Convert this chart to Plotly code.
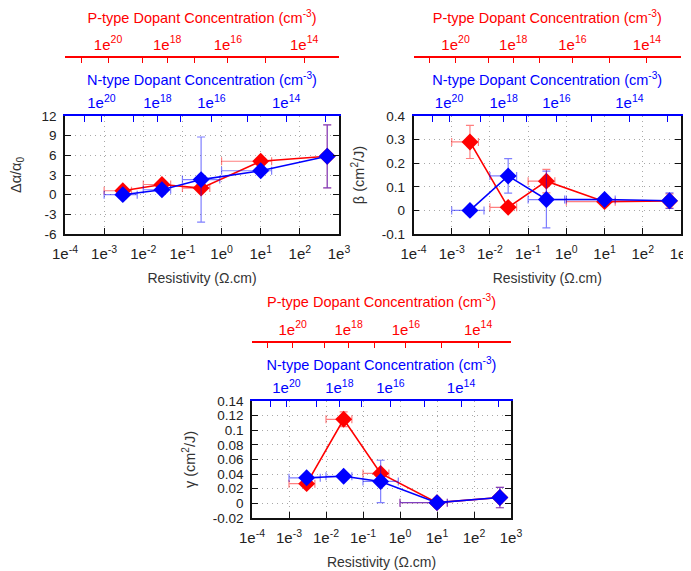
import plotly.graph_objects as go

W, H = 691, 571
OFF = 8            # the page body margin: the figure starts 8 px in from the window corner
FW, FH = W - OFF, H - OFF

# ---------------- data ----------------
resistivity = [3e-3, 3e-2, 3e-1, 1e1, 5e2]

# horizontal (resistivity) ranges
p_rho_lo = [1e-3, 1e-2, 1e-1, 1.0, 5e2]
p_rho_hi = [5e-3, 5e-2, 5e-1, 19.0, 5e2]
n_rho_lo = [1e-3, 1e-2, 1e-1, 1.0, 5e2]
n_rho_hi = [7e-3, 5e-2, 9e-1, 19.0, 5e2]

# panel 1 : delta alpha / alpha0
p_alpha = [0.6, 1.55, 1.0, 5.1, 5.85]
p_alpha_err = [0.3, 0.3, 0.3, 0.3, 4.8]
n_alpha = [0.0, 0.75, 2.3, 3.65, 5.85]
n_alpha_err = [0.3, 0.3, 6.5, 0.3, 4.8]

# panel 2 : beta (cm2/J)
p_beta = [0.29, 0.013, 0.124, 0.037, 0.04]
p_beta_err = [0.07, 0.005, 0.05, 0.005, 0.03]
n_beta = [0.0, 0.146, 0.046, 0.046, 0.041]
n_beta_err = [0.0, 0.073, 0.12, 0.005, 0.033]

# panel 3 : gamma (cm2/J)
p_gamma = [0.027, 0.115, 0.041, 0.001, 0.008]
p_gamma_err = [0.002, 0.01, 0.004, 0.0, 0.014]
n_gamma = [0.035, 0.037, 0.030, 0.001, 0.008]
n_gamma_err = [0.002, 0.002, 0.029, 0.0, 0.014]

# bottom axis ticks
rho_ticks = [1e-4, 1e-3, 1e-2, 1e-1, 1e0, 1e1, 1e2, 1e3]
rho_labels = ["1e<sup>-4</sup>", "1e<sup>-3</sup>", "1e<sup>-2</sup>", "1e<sup>-1</sup>",
              "1e<sup>0</sup>", "1e<sup>1</sup>", "1e<sup>2</sup>", "1e<sup>3</sup>"]

# dopant-concentration axes: resistivity at each concentration decade
n_dopant_rho = [10**-3.50, 10**-3.07, 10**-2.25, 10**-1.64, 10**-1.05, 10**-0.26, 10**0.66, 10**1.65, 10**2.65]
n_dopant_labels = ["", "1e<sup>20</sup>", "", "1e<sup>18</sup>", "", "1e<sup>16</sup>", "", "1e<sup>14</sup>", ""]
p_dopant_rho = [10**-3.59, 10**-2.90, 10**-2.03, 10**-1.39, 10**-0.70, 10**0.16, 10**1.13, 10**2.11]
p_dopant_labels = ["", "1e<sup>20</sup>", "", "1e<sup>18</sup>", "", "1e<sup>16</sup>", "", "1e<sup>14</sup>"]

# y ticks
alpha_ticks = [-6, -3, 0, 3, 6, 9, 12]
alpha_labels = ["-6", "-3", "0", "3", "6", "9", "12"]
beta_ticks = [-0.1, 0.0, 0.1, 0.2, 0.3, 0.4]
beta_labels = ["-0.1", "0", "0.1", "0.2", "0.3", "0.4"]
gamma_ticks = [-0.02, 0.0, 0.02, 0.04, 0.06, 0.08, 0.1, 0.12, 0.14]
gamma_labels = ["-0.02", "0", "0.02", "0.04", "0.06", "0.08", "0.1", "0.12", "0.14"]

RED = "#ff0000"
BLUE = "#0000ff"
RED_ERR = "rgba(255,0,0,0.5)"
BLUE_ERR = "rgba(0,0,255,0.5)"
FONT = "Liberation Sans, Arial, sans-serif"
GRID = "#a8a8a8"
GDASH = "1px,4px"


def px(x):
    return (x - OFF) / FW


def py(y):
    return 1 - (y - OFF) / FH


panels = [
    dict(x0=65, x1=339, top=116, bot=234, y=(p_alpha, p_alpha_err, n_alpha, n_alpha_err),
         yr=[-6, 12], yt=alpha_ticks, yl=alpha_labels, ytitle="Δα/α<sub>0</sub>", ystand=16),
    dict(x0=413.5, x1=681, top=116, bot=234, y=(p_beta, p_beta_err, n_beta, n_beta_err),
         yr=[-0.1, 0.4], yt=beta_ticks, yl=beta_labels, ytitle="β (cm<sup>2</sup>/J)", ystand=14),
    dict(x0=252, x1=511, top=401, bot=518, y=(p_gamma, p_gamma_err, n_gamma, n_gamma_err),
         yr=[-0.02, 0.14], yt=gamma_ticks, yl=gamma_labels, ytitle="γ (cm<sup>2</sup>/J)", ystand=14),
]

fig = go.Figure()
layout = dict(width=FW, height=FH, margin=dict(l=0, r=0, t=0, b=0, autoexpand=False),
              paper_bgcolor="white", plot_bgcolor="white", showlegend=False,
              font=dict(family=FONT, size=14, color="#222"))

for i, p in enumerate(panels):
    xb = 3 * i + 1
    yb = i + 1
    xname = "x" if xb == 1 else f"x{xb}"
    yname = "y" if yb == 1 else f"y{yb}"
    pv, pe, nv, ne = p["y"]
    for vals, errs, lo, hi, col, ecol in [(pv, pe, p_rho_lo, p_rho_hi, RED, RED_ERR),
                                          (nv, ne, n_rho_lo, n_rho_hi, BLUE, BLUE_ERR)]:
        fig.add_trace(go.Scatter(
            x=resistivity, y=vals, xaxis=xname, yaxis=yname, mode="lines+markers",
            line=dict(color=col, width=1.6),
            marker=dict(symbol="diamond", size=13, color=col),
            error_y=dict(type="data", array=errs, color=ecol, thickness=1.2, width=4),
            error_x=dict(type="data", symmetric=False,
                         array=[h - r for h, r in zip(hi, resistivity)],
                         arrayminus=[r - l for r, l in zip(resistivity, lo)],
                         color=ecol, thickness=1.2, width=4),
            cliponaxis=False, hoverinfo="skip",
        ))
    # empty traces so that the two dopant axes get drawn
    for extra in (xb + 1, xb + 2):
        fig.add_trace(go.Scatter(x=[], y=[], xaxis=f"x{extra}", yaxis=yname,
                                 mode="markers", hoverinfo="skip"))
    dom_x = [px(p["x0"]), px(p["x1"])]
    dom_y = [py(p["bot"]), py(p["top"])]
    k = "" if xb == 1 else str(xb)
    # bottom resistivity axis
    layout["xaxis" + k] = dict(
        type="log", range=[-4, 3], domain=dom_x, anchor=yname, automargin=False,
        tickvals=rho_ticks, ticktext=rho_labels, ticks="inside", ticklen=6,
        tickcolor="#111", showline=True, linecolor="#111", linewidth=1.6,
        showgrid=True, gridcolor=GRID, griddash=GDASH, gridwidth=1,
        zeroline=False, tickfont=dict(size=15, color="#222"), ticklabelstandoff=5,
        ticklabeloverflow="allow",
        title=dict(text="Resistivity (Ω.cm)", font=dict(size=14, color="#333"), standoff=12),
    )
    # N-type (blue) top axis on the box
    layout["xaxis" + str(xb + 1)] = dict(
        type="log", range=[-4, 3], domain=dom_x, anchor=yname, overlaying=xname,
        side="top", tickvals=n_dopant_rho, ticktext=n_dopant_labels, automargin=False,
        ticks="inside", ticklen=6, tickcolor=BLUE, showline=True, linecolor=BLUE,
        linewidth=1.6, showgrid=False, zeroline=False,
        tickfont=dict(size=15, color=BLUE), ticklabelstandoff=0,
        title=dict(text="N-type Dopant Concentration (cm<sup>-3</sup>)",
                   font=dict(size=14.5, color=BLUE), standoff=3),
    )
    # P-type (red) free axis above
    layout["xaxis" + str(xb + 2)] = dict(
        type="log", range=[-4, 3], domain=dom_x, anchor="free", overlaying=xname,
        position=py(p["top"] - 59.5), side="top", tickvals=p_dopant_rho, automargin=False,
        ticktext=p_dopant_labels, ticks="inside", ticklen=6, tickcolor=RED,
        showline=True, linecolor=RED, linewidth=1.6, showgrid=False, zeroline=False,
        tickfont=dict(size=15, color=RED), ticklabelstandoff=0,
        title=dict(text="P-type Dopant Concentration (cm<sup>-3</sup>)",
                   font=dict(size=14.5, color=RED), standoff=6),
    )
    layout["yaxis" + ("" if yb == 1 else str(yb))] = dict(
        range=p["yr"], domain=dom_y, anchor=xname, tickvals=p["yt"], ticktext=p["yl"],
        ticks="inside", ticklen=6, tickcolor="#111", showline=True, linecolor="#111",
        linewidth=1.6, mirror="ticks", showgrid=True, gridcolor=GRID, automargin=False,
        griddash=GDASH, gridwidth=1, zeroline=False,
        tickfont=dict(size=13.5, color="#222"), ticklabelstandoff=4,
        title=dict(text=p["ytitle"], font=dict(size=14.5, color="#333"), standoff=p["ystand"]),
    )

fig.update_layout(**layout)
fig.write_html("out.html")
